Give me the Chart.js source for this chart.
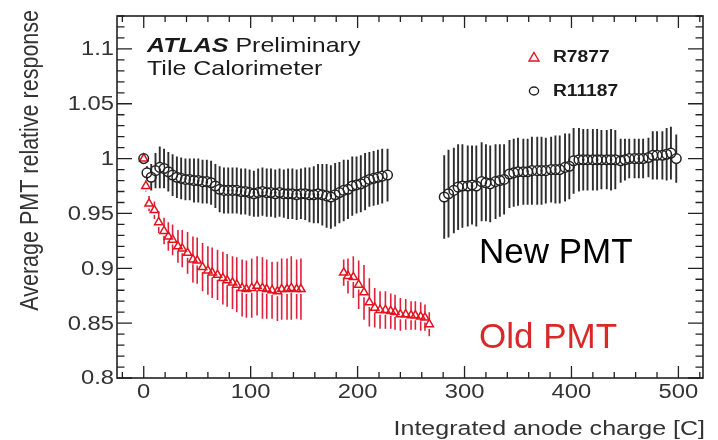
<!DOCTYPE html>
<html>
<head>
<meta charset="utf-8">
<script src="https://cdn.jsdelivr.net/npm/chart.js@4.4.1/dist/chart.umd.min.js"></script>
<style>
  html, body { margin: 0; padding: 0; background: #fff; }
  #wrap { width: 718px; height: 440px; }
</style>
</head>
<body>
<div id="wrap"><canvas id="pmtChart"></canvas></div>
<script>
// R7877 (old PMT): integrated charge [C], relative response, error
var oldX = [0, 2, 5, 10, 14, 19, 23, 27, 32, 36, 41, 46, 50, 55, 60, 64, 69, 74, 78, 83,
  87, 92, 96, 101, 106, 111, 115, 120, 125, 129, 134, 138, 143, 147,
  187, 191, 196, 201, 206, 211, 216, 221, 226, 231, 235, 240, 245, 250, 254, 259, 263, 267];
var oldY = [1.000, 0.975, 0.959, 0.953, 0.942, 0.934, 0.929, 0.926, 0.920, 0.918, 0.914, 0.908, 0.907, 0.901, 0.898, 0.896, 0.894, 0.891, 0.889, 0.887,
  0.885, 0.882, 0.881, 0.882, 0.884, 0.882, 0.881, 0.880, 0.879, 0.881, 0.881, 0.882, 0.881, 0.881,
  0.896, 0.893, 0.892, 0.885, 0.878, 0.869, 0.864, 0.862, 0.862, 0.861, 0.860, 0.858, 0.858, 0.857, 0.857, 0.856, 0.855, 0.849];
var oldErr = [0, 0.005, 0.007, 0.008, 0.010, 0.012, 0.013, 0.014, 0.015, 0.017, 0.019, 0.021, 0.021, 0.022, 0.022, 0.023, 0.023, 0.024, 0.024, 0.024,
  0.025, 0.026, 0.026, 0.027, 0.027, 0.028, 0.027, 0.026, 0.027, 0.028, 0.028, 0.029, 0.027, 0.028,
  0.012, 0.016, 0.019, 0.022, 0.025, 0.022, 0.018, 0.017, 0.017, 0.016, 0.016, 0.015, 0.014, 0.013, 0.013, 0.013, 0.012, 0.011];

// R11187 (new PMT)
var newX = [0, 3, 7, 11, 15, 19, 23, 27, 31, 35, 39, 43, 47, 51, 55, 59, 63, 67, 71, 75,
  79, 83, 87, 91, 95, 99, 103, 107, 111, 115, 119, 123, 127, 131, 135, 139, 143, 147, 151, 155,
  159, 163, 167, 171, 175, 179, 183, 187, 191, 195, 199, 203, 207, 211, 215, 219, 223, 228,
  281, 285, 290, 294, 298, 303, 307, 311, 316, 320, 324, 329, 333, 337, 342, 346, 350, 355, 359, 363,
  368, 372, 376, 381, 385, 389, 394, 398, 402, 407, 411, 415, 420, 424, 428, 433, 437, 441, 446, 450,
  454, 459, 463, 467, 472, 476, 480, 485, 489, 493, 498];
var newY = [1.000, 0.987, 0.983, 0.989, 0.992, 0.991, 0.988, 0.985, 0.983, 0.982, 0.981, 0.981, 0.980, 0.980, 0.979, 0.979, 0.978, 0.975, 0.972, 0.971,
  0.971, 0.971, 0.971, 0.970, 0.970, 0.969, 0.968, 0.969, 0.970, 0.969, 0.969, 0.968, 0.969, 0.968, 0.968, 0.968, 0.967, 0.968, 0.968, 0.967,
  0.967, 0.968, 0.967, 0.966, 0.965, 0.967, 0.969, 0.971, 0.972, 0.975, 0.976, 0.977, 0.979, 0.981, 0.982, 0.983, 0.984, 0.985,
  0.965, 0.968, 0.971, 0.974, 0.975, 0.975, 0.976, 0.975, 0.979, 0.978, 0.977, 0.979, 0.980, 0.981, 0.986, 0.987, 0.988, 0.988, 0.988, 0.989,
  0.989, 0.989, 0.989, 0.990, 0.990, 0.990, 0.992, 0.993, 0.998, 0.999, 0.999, 0.999, 0.999, 0.999, 0.999, 0.999, 0.999, 0.999, 0.998, 0.999,
  1.000, 1.000, 1.000, 1.000, 1.001, 1.003, 1.003, 1.003, 1.004, 1.005, 1.000];
var newErr = [0, 0.006, 0.012, 0.016, 0.019, 0.018, 0.018, 0.019, 0.019, 0.019, 0.019, 0.019, 0.020, 0.020, 0.020, 0.020, 0.020, 0.020, 0.021, 0.021,
  0.021, 0.021, 0.021, 0.021, 0.021, 0.021, 0.021, 0.022, 0.022, 0.022, 0.022, 0.022, 0.022, 0.022, 0.023, 0.023, 0.023, 0.023, 0.024, 0.025,
  0.026, 0.027, 0.028, 0.029, 0.029, 0.029, 0.028, 0.028, 0.027, 0.027, 0.026, 0.026, 0.026, 0.025, 0.025, 0.025, 0.025, 0.024,
  0.038, 0.040, 0.039, 0.039, 0.038, 0.037, 0.036, 0.037, 0.036, 0.035, 0.035, 0.034, 0.033, 0.032, 0.031, 0.031, 0.031, 0.030, 0.030, 0.031,
  0.031, 0.031, 0.030, 0.030, 0.031, 0.031, 0.031, 0.030, 0.030, 0.029, 0.028, 0.028, 0.028, 0.028, 0.027, 0.027, 0.028, 0.027, 0.020, 0.019,
  0.018, 0.018, 0.018, 0.018, 0.018, 0.022, 0.022, 0.022, 0.024, 0.024, 0.022];

var xTicks = [0, 100, 200, 300, 400, 500];
var yTicks = [0.8, 0.85, 0.9, 0.95, 1, 1.05, 1.1];

var FONT = '"Liberation Sans", Arial, sans-serif';
var RED = '#e3121f';
var DARK = '#222';
var SX = 1.22; // the plot text looks stretched sideways

function toPoints(xs, ys) {
  return xs.map(function(x, i) { return {x: x, y: ys[i]}; });
}

// draw text stretched horizontally, returns drawn width
function wideText(ctx, txt, x, y, sx) {
  ctx.save();
  ctx.translate(x, y);
  ctx.scale(sx, 1);
  ctx.fillText(txt, 0, 0);
  ctx.restore();
  return ctx.measureText(txt).width * sx;
}

function fmt(v) { return String(Math.round(v * 100) / 100); }

// error bars, ROOT-like frame with inner ticks, labels
var rootStyle = {
  id: 'rootStyle',
  beforeDatasetsDraw: function(chart) {
    var ctx = chart.ctx, ys = chart.scales.y;
    ctx.save();
    chart.data.datasets.forEach(function(ds, i) {
      var meta = chart.getDatasetMeta(i);
      var gap = ds.pointRadius;
      ctx.strokeStyle = ds.barColor;
      ctx.lineWidth = ds.barWidth;
      meta.data.forEach(function(el, j) {
        var e = ds.errors[j];
        if (!e) return;
        var hi = ys.getPixelForValue(ds.data[j].y + e);
        var lo = ys.getPixelForValue(ds.data[j].y - e);
        ctx.beginPath();
        if (el.y - gap > hi) { ctx.moveTo(el.x, hi); ctx.lineTo(el.x, el.y - gap); }
        if (el.y + gap < lo) { ctx.moveTo(el.x, el.y + gap); ctx.lineTo(el.x, lo); }
        ctx.stroke();
      });
    });
    ctx.restore();
  },
  afterDraw: function(chart) {
    var ctx = chart.ctx, a = chart.chartArea;
    var xs = chart.scales.x, ys = chart.scales.y;
    ctx.save();
    ctx.strokeStyle = DARK;
    ctx.lineWidth = 1.6;
    ctx.strokeRect(a.left, a.top, a.right - a.left, a.bottom - a.top);
    ctx.lineWidth = 1.3;
    ctx.beginPath();
    for (var k = 80; k <= 113; k++) {
      var py = ys.getPixelForValue(k / 100);
      var len = (k % 5 === 0) ? 15 : 7.5;
      ctx.moveTo(a.left, py); ctx.lineTo(a.left + len, py);
      ctx.moveTo(a.right, py); ctx.lineTo(a.right - len, py);
    }
    for (var v = -20; v <= 520; v += 20) {
      var px = xs.getPixelForValue(v);
      var l2 = (v % 100 === 0) ? 12 : 6;
      ctx.moveTo(px, a.bottom); ctx.lineTo(px, a.bottom - l2);
      ctx.moveTo(px, a.top); ctx.lineTo(px, a.top + l2);
    }
    ctx.stroke();

    // tick labels
    ctx.fillStyle = '#333';
    ctx.font = '19.5px ' + FONT;
    ctx.textBaseline = 'middle';
    ctx.textAlign = 'right';
    yTicks.forEach(function(t) {
      wideText(ctx, fmt(t), 114, ys.getPixelForValue(t) + 1, SX);
    });
    ctx.textAlign = 'center';
    ctx.textBaseline = 'alphabetic';
    xTicks.forEach(function(t) {
      wideText(ctx, fmt(t), xs.getPixelForValue(t), 398, SX);
    });

    // axis titles
    ctx.font = '20.5px ' + FONT;
    ctx.textAlign = 'right';
    wideText(ctx, 'Integrated anode charge [C]', 705, 435, SX);
    ctx.save();
    ctx.translate(38, 10);
    ctx.scale(SX, 1);
    ctx.rotate(-Math.PI / 2);
    ctx.font = '21.5px ' + FONT;
    ctx.fillText('Average PMT relative response', 0, 0);
    ctx.restore();

    // ATLAS label
    ctx.textAlign = 'left';
    ctx.fillStyle = '#1a1a1a';
    ctx.font = 'italic bold 21px ' + FONT;
    var w = wideText(ctx, 'ATLAS', 147, 52, 1.19);
    ctx.font = '21px ' + FONT;
    wideText(ctx, 'Preliminary', 147 + w + 7, 52, 1.19);
    wideText(ctx, 'Tile Calorimeter', 147, 75, 1.19);

    // legend
    ctx.lineWidth = 1.4;
    ctx.strokeStyle = RED;
    ctx.beginPath();
    ctx.moveTo(534, 52.5); ctx.lineTo(539, 61); ctx.lineTo(529, 61); ctx.closePath();
    ctx.stroke();
    ctx.strokeStyle = DARK;
    ctx.beginPath();
    ctx.ellipse(534, 91, 4.6, 4, 0, 0, Math.PI * 2);
    ctx.stroke();
    ctx.fillStyle = '#1a1a1a';
    ctx.font = 'bold 16px ' + FONT;
    ctx.textBaseline = 'middle';
    wideText(ctx, 'R7877', 553, 58, 1.2);
    wideText(ctx, 'R11187', 553, 92, 1.2);

    // annotations
    ctx.textBaseline = 'alphabetic';
    ctx.font = '35px ' + FONT;
    ctx.fillStyle = '#000';
    ctx.fillText('New PMT', 479, 263);
    ctx.fillStyle = '#d82828';
    ctx.fillText('Old PMT', 479, 348);
    ctx.restore();
  }
};

new Chart(document.getElementById('pmtChart'), {
  type: 'scatter',
  data: {
    datasets: [{
      label: 'R11187',
      data: toPoints(newX, newY),
      errors: newErr,
      pointStyle: 'circle',
      pointRadius: 4.8,
      pointBorderWidth: 1.5,
      borderColor: DARK,
      backgroundColor: 'rgba(0,0,0,0)',
      barColor: '#2e2e2e',
      barWidth: 1.9
    }, {
      label: 'R7877',
      data: toPoints(oldX, oldY),
      errors: oldErr,
      pointStyle: 'triangle',
      pointRadius: 4.8,
      pointBorderWidth: 1.5,
      borderColor: RED,
      backgroundColor: 'rgba(0,0,0,0)',
      barColor: '#e0203c',
      barWidth: 1.6
    }]
  },
  options: {
    responsive: true,
    maintainAspectRatio: false,
    animation: false,
    layout: { padding: { top: 16, right: 15, left: 0, bottom: 0 } },
    plugins: {
      legend: { display: false },
      tooltip: { enabled: false }
    },
    scales: {
      x: {
        type: 'linear',
        min: -25,
        max: 523,
        afterFit: function(s) { s.height = 62; },
        afterBuildTicks: function(s) { s.ticks = xTicks.map(function(v) { return {value: v}; }); },
        grid: { display: false, drawTicks: false },
        border: { display: false },
        ticks: { display: false }
      },
      y: {
        min: 0.8,
        max: 1.13,
        afterFit: function(s) { s.width = 117; },
        afterBuildTicks: function(s) { s.ticks = yTicks.map(function(v) { return {value: v}; }); },
        grid: { display: false, drawTicks: false },
        border: { display: false },
        ticks: { display: false }
      }
    }
  },
  plugins: [rootStyle]
});
</script>
</body>
</html>
